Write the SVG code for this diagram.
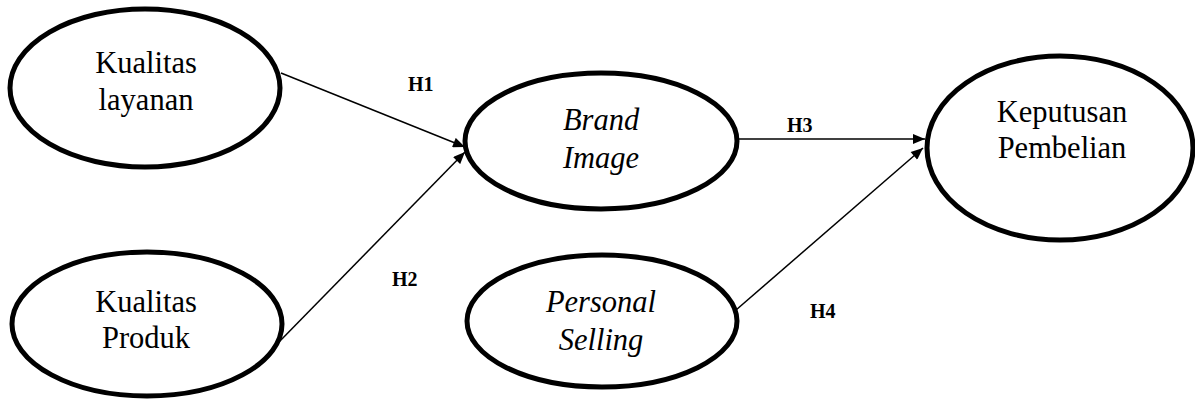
<svg xmlns="http://www.w3.org/2000/svg" width="1195" height="399" viewBox="0 0 1195 399">
<style>
.node ellipse{fill:#fff;stroke:#000;stroke-width:5}
.t{font-size:30.5px;fill:#000;text-anchor:middle}
.i{font-style:italic}
.lbl{font-size:20px;font-weight:bold;fill:#000}
.edge{stroke:#000;stroke-width:1.5;fill:none;marker-end:url(#arr)}
</style>
<defs>
<marker id="arr" viewBox="0 0 12 10" refX="12" refY="5" markerWidth="13" markerHeight="10" markerUnits="userSpaceOnUse" orient="auto">
<path d="M0,0 L12,5 L0,10 z" fill="#000"/>
</marker>
</defs>
<rect width="1195" height="399" fill="#fff"/>
<g id="connectors">
<line class="edge" x1="281" y1="73" x2="465" y2="147"/>
<line class="edge" x1="278" y1="343" x2="465" y2="152"/>
<line class="edge" x1="737" y1="139" x2="925" y2="139"/>
<line class="edge" x1="736" y1="310" x2="923" y2="148"/>
</g>
<g id="labels" font-family="Liberation Serif, DejaVu Serif, serif">
<text class="lbl" x="408" y="91">H1</text>
<text class="lbl" x="392" y="286">H2</text>
<text class="lbl" x="787" y="132">H3</text>
<text class="lbl" x="810" y="318">H4</text>
</g>
<g id="kualitas-layanan" class="node" font-family="Liberation Serif, DejaVu Serif, serif">
<ellipse cx="145" cy="88" rx="135" ry="79"/>
<text class="t" x="146" y="73">Kualitas</text>
<text class="t" x="146" y="110">layanan</text>
</g>
<g id="kualitas-produk" class="node" font-family="Liberation Serif, DejaVu Serif, serif">
<ellipse cx="147" cy="324" rx="135" ry="72"/>
<text class="t" x="146" y="312">Kualitas</text>
<text class="t" x="146" y="348">Produk</text>
</g>
<g id="brand-image" class="node" font-family="Liberation Serif, DejaVu Serif, serif">
<ellipse cx="601" cy="141" rx="136" ry="68"/>
<text class="t i" x="601" y="130">Brand</text>
<text class="t i" x="601" y="168">Image</text>
</g>
<g id="personal-selling" class="node" font-family="Liberation Serif, DejaVu Serif, serif">
<ellipse cx="602" cy="321" rx="135" ry="66"/>
<text class="t i" x="601" y="312">Personal</text>
<text class="t i" x="601" y="350">Selling</text>
</g>
<g id="keputusan-pembelian" class="node" font-family="Liberation Serif, DejaVu Serif, serif">
<ellipse cx="1060" cy="148" rx="133" ry="92"/>
<text class="t" x="1062" y="122">Keputusan</text>
<text class="t" x="1062" y="158">Pembelian</text>
</g>
</svg>
